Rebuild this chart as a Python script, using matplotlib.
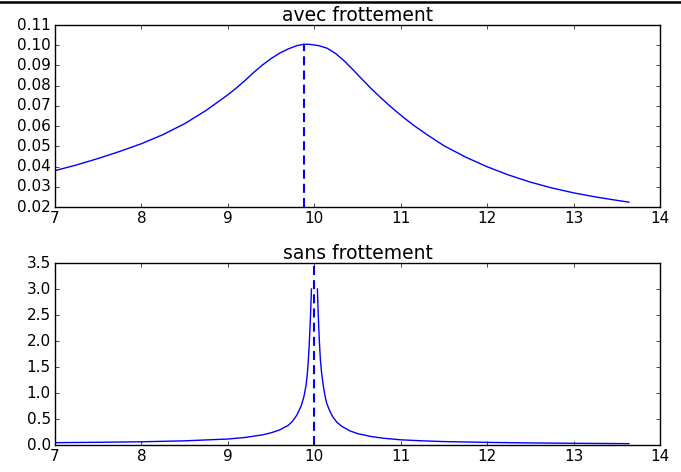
import numpy as np
import matplotlib
matplotlib.use('Agg')
import matplotlib.pyplot as plt
from matplotlib.lines import Line2D

# values
# avec frottement
omega_f = [7.0, 7.25, 7.5, 7.75, 8.0, 8.25, 8.5, 8.75, 9.0, 9.1, 9.2, 9.3, 9.4,
           9.5, 9.6, 9.7, 9.8, 9.88, 9.95, 10.05, 10.15, 10.25, 10.35, 10.45,
           10.55, 10.65, 10.75, 10.85, 10.95, 11.05, 11.15, 11.3, 11.5, 11.75,
           12.0, 12.25, 12.5, 12.75, 13.0, 13.25, 13.5, 13.64]
amp_f = [0.0380, 0.0408, 0.0440, 0.0475, 0.0513, 0.0558, 0.0612, 0.0678, 0.0755,
         0.0789, 0.0826, 0.0866, 0.0902, 0.0934, 0.0961, 0.0982, 0.0998, 0.1005,
         0.1004, 0.0998, 0.0985, 0.0958, 0.0921, 0.0878, 0.0833, 0.0789, 0.0748,
         0.0709, 0.0672, 0.0637, 0.0604, 0.0559, 0.0503, 0.0447, 0.0399, 0.0358,
         0.0323, 0.0294, 0.0270, 0.0250, 0.0233, 0.0224]
omega_res_f = 9.88
amp_res_f = 0.1005

# sans frottement (diverges at omega = 10)
omega_s = [7.0, 7.5, 8.0, 8.5, 9.0, 9.2, 9.4, 9.5, 9.6, 9.7, 9.75, 9.8, 9.85,
           9.88, 9.905, 9.92, 9.932, 9.942, 9.951, 9.96, 9.967, 10.0, 10.036,
           10.043, 10.051, 10.06, 10.071, 10.085, 10.106, 10.125, 10.144, 10.18,
           10.213, 10.26, 10.318, 10.414, 10.5, 10.65, 10.8, 11.0, 11.25, 11.5,
           12.0, 12.5, 13.0, 13.64]
amp_s = [0.045, 0.052, 0.062, 0.080, 0.115, 0.145, 0.195, 0.235, 0.29, 0.38,
         0.46, 0.58, 0.76, 0.93, 1.15, 1.38, 1.65, 1.95, 2.28, 2.65, 3.0, np.nan,
         3.0, 2.65, 2.28, 1.95, 1.63, 1.38, 1.12, 0.94, 0.80, 0.65, 0.545, 0.44,
         0.36, 0.27, 0.22, 0.165, 0.13, 0.10, 0.08, 0.066, 0.05, 0.04, 0.033,
         0.026]
omega_0 = 10.0

plt.style.use('classic')
plt.rcParams['figure.facecolor'] = 'white'
plt.rcParams['savefig.facecolor'] = 'white'
plt.rcParams['font.family'] = ['DejaVu Sans']
plt.rcParams['xtick.labelsize'] = 11
plt.rcParams['ytick.labelsize'] = 11
plt.rcParams['xtick.major.size'] = 3
plt.rcParams['ytick.major.size'] = 3
plt.rcParams['xtick.major.pad'] = 3
plt.rcParams['ytick.major.pad'] = 3

W, H = 681, 472
fig = plt.figure(figsize=(W / 100, H / 100), dpi=100)

def rect(l, t, r, b):
    return [l / W, 1 - b / H, (r - l) / W, (b - t) / H]

dash = dict(ls='--', lw=1.5, dashes=(6.5, 3.7), color='b')

# haut
ax1 = fig.add_axes(rect(55, 25, 660, 207))
ax1.plot(omega_f, amp_f, color='b', lw=1.0)
ax1.plot([omega_res_f, omega_res_f], [0.02, amp_res_f], **dash)
ax1.set_xlim(7, 14)
ax1.set_ylim(0.02, 0.11)
ax1.set_yticks(np.arange(0.02, 0.1101, 0.01))
ax1.set_title('avec frottement', fontsize=13.5, pad=3)

# bas
ax2 = fig.add_axes(rect(55, 263, 660, 445))
ax2.plot(omega_s, amp_s, color='b', lw=1.0)
ax2.plot([omega_0, omega_0], [0, 3.5], **dash)
ax2.set_xlim(7, 14)
ax2.set_ylim(0, 3.5)
ax2.set_title('sans frottement', fontsize=13.5, pad=3)

# trait noir en haut de l'image
fig.add_artist(Line2D([0, 1], [1 - 2.2 / H, 1 - 2.2 / H], color='k', lw=1.8,
                      transform=fig.transFigure))

fig.savefig('out.png', dpi=100)
